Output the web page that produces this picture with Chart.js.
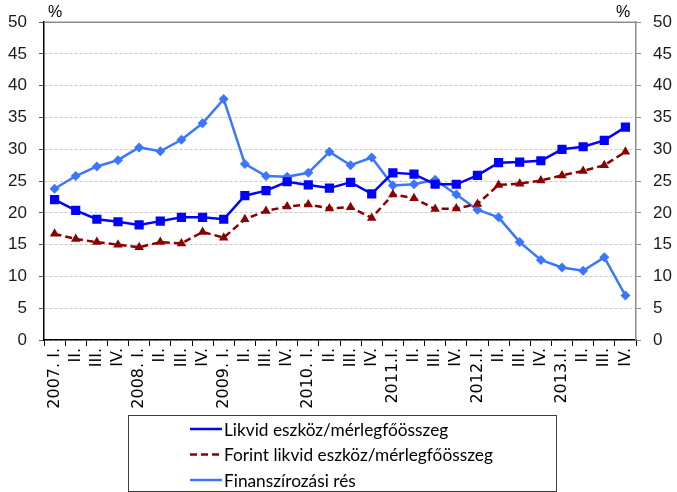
<!DOCTYPE html>
<html>
<head>
<meta charset="utf-8">
<script src="https://cdn.jsdelivr.net/npm/chart.js@4"></script>
<style>
  html, body { margin: 0; padding: 0; background: #ffffff; }
  #wrap { width: 677px; height: 492px; position: relative; }
</style>
</head>
<body>
<div id="wrap"><canvas id="grafico"></canvas></div>
<script>
const negyedevek = [
  '2007. I.', 'II.', 'III.', 'IV.',
  '2008. I.', 'II.', 'III.', 'IV.',
  '2009. I.', 'II.', 'III.', 'IV.',
  '2010. I.', 'II.', 'III.', 'IV.',
  '2011.I.', 'II.', 'III.', 'IV.',
  '2012.I.', 'II.', 'III.', 'IV.',
  '2013.I.', 'II.', 'III.', 'IV.'
];

const likvidArany = [
  22.1, 20.4, 19.0, 18.6, 18.1, 18.7, 19.3, 19.3,
  19.0, 22.7, 23.5, 24.9, 24.4, 23.9, 24.8, 23.0,
  26.3, 26.1, 24.5, 24.5, 25.9, 27.9, 28.0, 28.2,
  30.0, 30.4, 31.4, 33.5
];

const forintLikvidArany = [
  16.7, 15.9, 15.4, 15.0, 14.6, 15.4, 15.2, 17.0,
  16.1, 19.0, 20.3, 21.0, 21.3, 20.7, 20.9, 19.2,
  22.9, 22.3, 20.6, 20.7, 21.4, 24.4, 24.6, 25.1,
  25.9, 26.6, 27.5, 29.6
];

const finanszirozasiRes = [
  23.8, 25.8, 27.3, 28.3, 30.3, 29.7, 31.5, 34.1,
  37.9, 27.7, 25.8, 25.7, 26.3, 29.6, 27.5, 28.7,
  24.3, 24.5, 25.2, 22.9, 20.5, 19.3, 15.4, 12.6,
  11.4, 10.9, 13.0, 7.0
];

const yTicks = [0, 5, 10, 15, 20, 25, 30, 35, 40, 45, 50];

const betu = "'Liberation Sans', Arial, sans-serif";
const xBetu = "'DejaVu Sans', Verdana, sans-serif";
const legendBetu = "Lato, 'Open Sans', sans-serif";

// keret a rajzterület körül + % feliratok + saját jelmagyarázat
const keretPlugin = {
  id: 'keret',
  beforeDatasetsDraw(chart) {
    const a = chart.chartArea;
    const ctx = chart.ctx;
    ctx.save();
    ctx.strokeStyle = '#8c8c8c';
    ctx.lineWidth = 1.5;
    ctx.beginPath();
    ctx.moveTo(a.left, a.top);
    ctx.lineTo(a.right, a.top);
    ctx.stroke();
    ctx.restore();
  },
  afterDraw(chart) {
    const a = chart.chartArea;
    const ctx = chart.ctx;
    ctx.save();
    ctx.fillStyle = '#000';
    ctx.font = '16px ' + betu;
    ctx.textAlign = 'center';
    ctx.textBaseline = 'bottom';
    ctx.fillText('%', a.left + 11, a.top - 2);
    ctx.fillText('%', a.right - 13, a.top - 2);

    // jelmagyarázat doboz
    const bx = 128.5, by = 415.5, bw = 428, bh = 76;
    ctx.strokeStyle = '#3c3c3c';
    ctx.lineWidth = 1;
    ctx.strokeRect(bx, by, bw, bh);
    ctx.font = '17.3px ' + legendBetu;
    ctx.textAlign = 'left';
    ctx.textBaseline = 'middle';
    chart.data.datasets.forEach((ds, i) => {
      const y = 429 + i * 25.5;
      ctx.strokeStyle = ds.borderColor;
      ctx.lineWidth = 2.5;
      ctx.setLineDash(ds.borderDash || []);
      ctx.beginPath();
      ctx.moveTo(190, y);
      ctx.lineTo(222, y);
      ctx.stroke();
      ctx.setLineDash([]);
      ctx.fillStyle = ds.pointBackgroundColor;
      Chart.helpers.drawPoint(ctx, {
        pointStyle: ds.pointStyle,
        rotation: 0,
        borderWidth: 0
      }, 206, y, ds.legendRadius);
      ctx.fillStyle = '#000';
      ctx.fillText(ds.label, 224, y + 1);
    });
    ctx.restore();
  }
};

function yTengely(pos) {
  return {
    position: pos,
    min: 0,
    max: 50,
    afterBuildTicks: axis => { axis.ticks = yTicks.map(v => ({ value: v })); },
    afterFit: axis => { axis.width = pos === 'left' ? 44 : 41; },
    border: {
      display: true,
      color: pos === 'left' ? '#000000' : '#8c8c8c',
      width: 1.5,
      dash: [3, 2]
    },
    grid: {
      drawOnChartArea: pos === 'left',
      color: pos === 'left' ? '#c8c8c8' : '#8c8c8c',
      tickColor: pos === 'left' ? '#555555' : '#8c8c8c',
      tickLength: 5,
      lineWidth: 1,
      tickBorderDash: []
    },
    ticks: {
      color: '#1a1a1a',
      padding: 12,
      font: { size: 17, family: betu }
    }
  };
}

const ctx = document.getElementById('grafico').getContext('2d');

const grafico = new Chart(ctx, {
  type: 'line',
  data: {
    labels: negyedevek,
    datasets: [
      {
        label: 'Likvid eszköz/mérlegfőösszeg',
        data: likvidArany,
        borderColor: '#0000ff',
        backgroundColor: '#0000ff',
        pointBackgroundColor: '#0000ff',
        pointBorderWidth: 0,
        borderWidth: 2.5,
        pointStyle: 'rect',
        pointRadius: 6.5,
        legendRadius: 5,
        tension: 0
      },
      {
        label: 'Forint likvid eszköz/mérlegfőösszeg',
        data: forintLikvidArany,
        borderColor: '#8b0000',
        backgroundColor: '#8b0000',
        pointBackgroundColor: '#8b0000',
        pointBorderWidth: 0,
        borderWidth: 2.5,
        borderDash: [7, 4],
        pointStyle: 'triangle',
        pointRadius: 5.5,
        legendRadius: 4.5,
        tension: 0
      },
      {
        label: 'Finanszírozási rés',
        data: finanszirozasiRes,
        borderColor: '#3a76ff',
        backgroundColor: '#3a76ff',
        pointBackgroundColor: '#3a76ff',
        pointBorderWidth: 0,
        borderWidth: 2.5,
        pointStyle: 'rectRot',
        pointRadius: 5,
        legendRadius: 4,
        tension: 0
      }
    ]
  },
  options: {
    responsive: true,
    maintainAspectRatio: false,
    animation: false,
    layout: { padding: { top: 20, right: 0, bottom: 0, left: 0 } },
    plugins: {
      legend: { display: false },
      tooltip: { enabled: false }
    },
    scales: {
      x: {
        offset: true,
        afterFit: axis => { axis.height = 152; },
        border: { display: true, color: '#000000', width: 1.5 },
        grid: {
          offset: true,
          drawOnChartArea: false,
          color: '#000000',
          tickLength: 6
        },
        ticks: {
          autoSkip: false,
          maxRotation: 90,
          minRotation: 90,
          padding: 2,
          color: '#000000',
          font: { size: 16, family: xBetu }
        }
      },
      y: yTengely('left'),
      y2: yTengely('right')
    }
  },
  plugins: [keretPlugin]
});
</script>
</body>
</html>
